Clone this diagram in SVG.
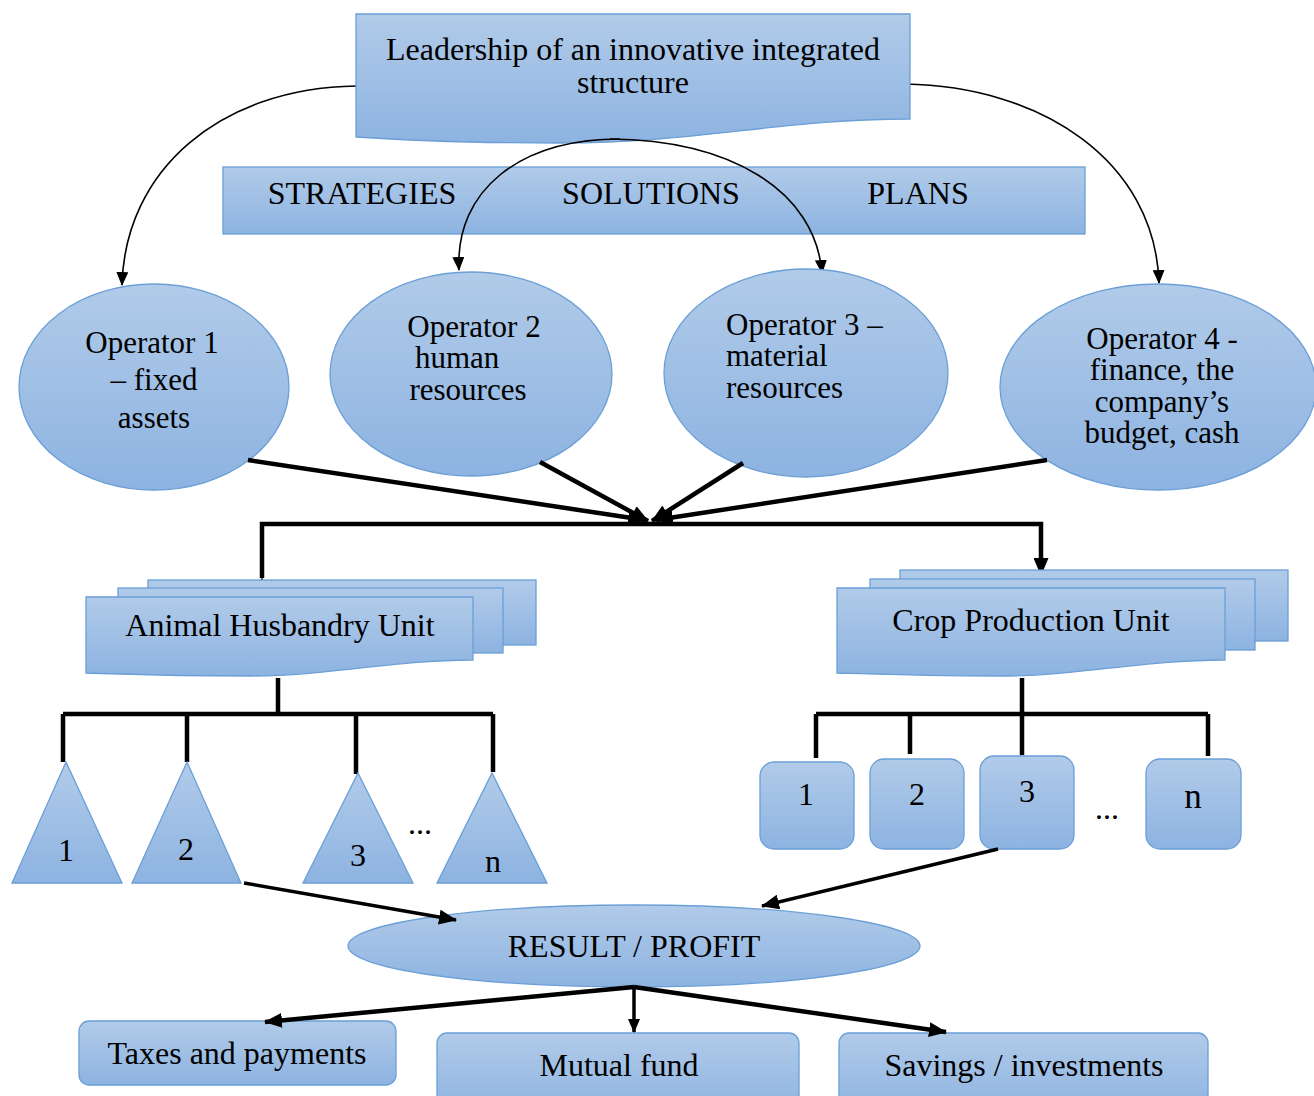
<svg xmlns="http://www.w3.org/2000/svg" width="1314" height="1096" viewBox="0 0 1314 1096">
<defs>
<linearGradient id="g" x1="0" y1="0" x2="0" y2="1">
<stop offset="0" stop-color="#b1cbe9"/>
<stop offset="1" stop-color="#8db3e1"/>
</linearGradient>
<marker id="ah" viewBox="0 0 14 12" refX="13" refY="6" markerWidth="14" markerHeight="12" markerUnits="userSpaceOnUse" orient="auto">
<path d="M0,0 L14,6 L0,12 Z" fill="#000"/>
</marker>
<marker id="ahs" viewBox="0 0 18 15" refX="17" refY="7.5" markerWidth="18" markerHeight="15" markerUnits="userSpaceOnUse" orient="auto">
<path d="M0,0 L18,7.5 L0,15 Z" fill="#000"/>
</marker>
</defs>
<style>
.s{fill:url(#g);stroke:#6b9fd6;stroke-width:1.3}
.t{font-family:"Liberation Serif","Times New Roman",serif;fill:#000;font-size:32px}
.o{font-size:31px}
.c{text-anchor:middle}
.thin{fill:none;stroke:#000;stroke-width:1.6}
.thk{fill:none;stroke:#000;stroke-width:4.5}
.med{fill:none;stroke:#000;stroke-width:3.5}
</style>
<rect width="1314" height="1096" fill="#fff"/>

<g id="connectors-top">
<path class="thin" d="M356,86 C220,88 125,170 122,285" marker-end="url(#ah)"/>
<path class="thin" d="M905,84 C1040,86 1155,160 1159,283" marker-end="url(#ah)"/>
</g>

<g id="leadership">
<path class="s" d="M356,14 H910 V119 C780,119 700,143 560,143 C470,143 400,140 356,137 Z"/>
<text class="t c" x="633" y="60">Leadership of an innovative integrated</text>
<text class="t c" x="633" y="93">structure</text>
</g>

<g id="bar">
<rect class="s" x="223" y="167" width="862" height="67"/>
<text class="t c" x="362" y="204">STRATEGIES</text>
<text class="t c" x="651" y="204">SOLUTIONS</text>
<text class="t c" x="918" y="204">PLANS</text>
</g>

<g id="connectors-mid">
<path class="thin" d="M620,139 C520,139 455,190 459,270" marker-end="url(#ah)"/>
<path class="thin" d="M610,139 C730,140 815,190 822,273" marker-end="url(#ah)"/>
</g>

<g id="op1">
<ellipse class="s" cx="154" cy="387" rx="135" ry="103"/>
<text class="t o c" x="152" y="353">Operator 1</text>
<text class="t o c" x="154" y="390">– fixed</text>
<text class="t o c" x="154" y="428">assets</text>
</g>
<g id="op2">
<ellipse class="s" cx="471" cy="374" rx="141" ry="102"/>
<text class="t o c" x="474" y="337">Operator 2</text>
<text class="t o" x="415" y="368">human</text>
<text class="t o c" x="468" y="400">resources</text>
</g>
<g id="op3">
<ellipse class="s" cx="806" cy="373" rx="142" ry="104"/>
<text class="t o" x="726" y="335">Operator 3 –</text>
<text class="t o" x="726" y="366">material</text>
<text class="t o" x="726" y="398">resources</text>
</g>
<g id="op4">
<ellipse class="s" cx="1158" cy="387" rx="158" ry="103"/>
<text class="t o c" x="1162" y="349">Operator 4 -</text>
<text class="t o c" x="1162" y="380">finance, the</text>
<text class="t o c" x="1162" y="412">company’s</text>
<text class="t o c" x="1162" y="443">budget, cash</text>
</g>

<g id="connectors-ops">
<path class="thk" d="M248,460 L645,520" marker-end="url(#ahs)"/>
<path class="thk" d="M540,462 L648,521" marker-end="url(#ahs)"/>
<path class="thk" d="M743,463 L652,521" marker-end="url(#ahs)"/>
<path class="thk" d="M1047,460 L656,520" marker-end="url(#ahs)"/>
<path class="thk" d="M262,578 V524 H1041 V575" marker-end="url(#ahs)" marker-start="url(#ahs)"/>
</g>

<g id="animal-unit">
<rect class="s" x="148" y="580" width="388" height="65"/>
<rect class="s" x="118" y="588" width="385" height="65"/>
<path class="s" d="M86,597 H473 V660 C390,660 330,676 250,676 C170,676 120,674 86,673 Z"/>
<text class="t c" x="280" y="636">Animal Husbandry Unit</text>
</g>

<g id="crop-unit">
<rect class="s" x="900" y="570" width="388" height="71"/>
<rect class="s" x="870" y="579" width="385" height="71"/>
<path class="s" d="M837,588 H1225 V660 C1140,660 1080,676 1000,676 C920,676 870,674 837,673 Z"/>
<text class="t c" x="1031" y="631">Crop Production Unit</text>
</g>

<g id="tree-lines">
<path class="thk" d="M278,678 V714 M63,714 H493 M63,714 V762 M187,714 V762 M356,714 V774 M493,714 V772"/>
<path class="thk" d="M1022,678 V755 M816,714 H1208 M816,714 V758 M910,714 V754 M1208,714 V756"/>
</g>

<g id="tri1"><path class="s" d="M12,883 H122 L66,762 Z"/><text class="t c" x="66" y="861">1</text></g>
<g id="tri2"><path class="s" d="M132,883 H241 L187,762 Z"/><text class="t c" x="186" y="860">2</text></g>
<g id="tri3"><path class="s" d="M303,883 H413 L358,773 Z"/><text class="t c" x="358" y="866">3</text></g>
<g id="trin"><path class="s" d="M437,883 H547 L492,773 Z"/><text class="t c" x="493" y="872">n</text></g>
<text class="t c" x="420" y="834">...</text>

<g id="box1"><rect class="s" x="760" y="762" width="94" height="87" rx="14"/><text class="t c" x="806" y="805">1</text></g>
<g id="box2"><rect class="s" x="870" y="759" width="94" height="90" rx="14"/><text class="t c" x="917" y="805">2</text></g>
<g id="box3"><rect class="s" x="980" y="756" width="94" height="93" rx="14"/><text class="t c" x="1027" y="802">3</text></g>
<g id="boxn"><rect class="s" x="1146" y="759" width="95" height="90" rx="14"/><text class="t c" x="1193" y="808" style="font-size:35px">n</text></g>
<text class="t c" x="1107" y="819">...</text>

<g id="result">
<ellipse class="s" cx="634" cy="946" rx="286" ry="41"/>
<text class="t c" x="634" y="957">RESULT / PROFIT</text>
</g>

<g id="connectors-result">
<path class="med" d="M244,883 L456,920" marker-end="url(#ahs)"/>
<path class="med" d="M998,849 L762,906" marker-end="url(#ahs)"/>
</g>

<g id="taxes">
<rect class="s" x="79" y="1021" width="317" height="64" rx="10"/>
<text class="t c" x="237" y="1064">Taxes and payments</text>
</g>
<g id="mutual">
<rect class="s" x="437" y="1033" width="362" height="80" rx="10"/>
<text class="t c" x="619" y="1076">Mutual fund</text>
</g>
<g id="savings">
<rect class="s" x="839" y="1033" width="369" height="80" rx="10"/>
<text class="t c" x="1024" y="1076">Savings / investments</text>
</g>

<g id="connectors-out">
<path class="thk" d="M634,987 L265,1022" marker-end="url(#ahs)"/>
<path class="med" d="M634,987 L634,1032" marker-end="url(#ah)"/>
<path class="thk" d="M634,987 L946,1032" marker-end="url(#ahs)"/>
</g>
</svg>
